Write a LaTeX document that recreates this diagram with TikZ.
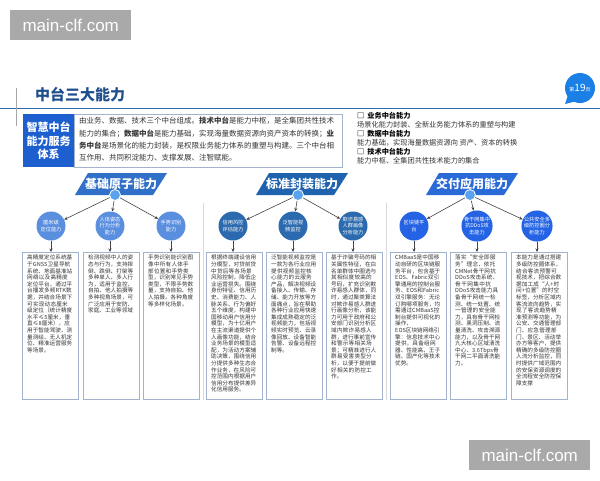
\documentclass[tikz,border=0pt]{standalone}
\usepackage{fontspec}
\setmainfont{Noto Sans CJK SC}
\newfontfamily\wmfont{Liberation Sans}
\XeTeXlinebreaklocale "zh"
\XeTeXlinebreakskip=0pt plus 0.5pt
\usetikzlibrary{arrows.meta}
\definecolor{titleblue}{HTML}{1F4E8C}
\definecolor{lineblue}{HTML}{2A6DB5}
\definecolor{badge}{HTML}{1A80E6}
\definecolor{deepblue}{HTML}{1E5FCF}
\definecolor{boxline}{HTML}{A3B3CC}
\definecolor{gA}{HTML}{5A8EDF}
\definecolor{gB}{HTML}{2B6AAE}
\definecolor{gC}{HTML}{2463E4}
\definecolor{hA}{HTML}{3170C8}
\definecolor{hB}{HTML}{1F62AD}
\definecolor{hC}{HTML}{2A6AD6}
\definecolor{hub}{HTML}{5AA2EE}
\definecolor{wm}{HTML}{A9A9A9}
\definecolor{txt}{HTML}{333333}
\definecolor{arrowgray}{HTML}{444444}
\definecolor{sepgray}{HTML}{D8D8D8}
\begin{document}
\begin{tikzpicture}[x=1pt,y=-1pt,
  wmbox/.style={fill=wm, text=white, font=\wmfont\fontsize{17}{17}\selectfont, minimum width=121pt, minimum height=30pt, inner sep=0pt, anchor=north west},
  capbox/.style={draw=boxline, line width=0.8pt, fill=white, minimum width=56pt, minimum height=147pt, inner sep=0pt, anchor=north west},
  boxtext/.style={anchor=north west, inner sep=0pt, text width=46pt, align=left, font=\fontsize{5.6}{6.6}\selectfont, text=txt},
  ability/.style={circle, fill=#1, minimum size=29pt, inner sep=0pt, text=white, align=center, font=\fontsize{5.2}{6.2}\selectfont},
  hubdot/.style={circle, fill=hub, draw=white, line width=0.8pt, minimum size=11pt, inner sep=0pt},
  link/.style={draw=arrowgray, line width=0.6pt, -{Stealth[length=3.5pt,width=3pt]}},
  header/.style={text=white, font=\bfseries\fontsize{12}{12}\selectfont, inner sep=0pt}
]
\useasboundingbox (0,0) rectangle (600,480);
\fill[white] (0,0) rectangle (600,480);

% watermarks
\node[wmbox] (wm1) at (10,10) {main-clf.com};
\node[wmbox] (wm2) at (469,440) {main-clf.com};

% title area
\draw[color=lineblue, line width=1pt] (0,108) -- (600,108);
\draw[color=gray!70, line width=0.8pt] (16,88) -- (16,126);
\node[anchor=west, text=titleblue, font=\bfseries\fontsize{15}{15}\selectfont, inner sep=0pt] (title) at (35,95) {中台三大能力};

% page badge
\fill[badge] (568,95) -- (565,104) -- (577,101) -- cycle;
\node[circle, fill=badge, minimum size=30pt, inner sep=0pt, text=white] (badgec) at (580,88)
  {{\fontsize{5}{5}\selectfont 第}{\fontsize{10}{10}\selectfont 19}{\fontsize{5}{5}\selectfont 页}};

% intro
\node[fill=deepblue, minimum width=51pt, minimum height=53pt, anchor=north west, inner sep=0pt] (sys) at (23,114) {};
\node[text=white, align=center, font=\bfseries\fontsize{11}{13.5}\selectfont, inner sep=0pt] (systext) at (sys.center) {智慧中台\\能力服务\\体系};
\node[draw=boxline, line width=0.8pt, minimum width=268pt, minimum height=53pt, anchor=north west, inner sep=0pt] (intro) at (74,114) {};
\node[anchor=north west, inner sep=0pt, align=left, text=txt, font=\fontsize{7.5}{12.4}\selectfont] (introtext) at (79,117)
{由业务、数据、技术三个中台组成。\textbf{技术中台}是能力中枢，是全集团共性技术\\
能力的集合；\textbf{数据中台}是能力基础，实现海量数据资源向资产资本的转换；\textbf{业}\\
\textbf{务中台}是场景化的能力封装，是权限业务能力体系的重塑与构建。三个中台相\\
互作用、共同积淀能力、支撑发展、注智赋能。};

\node[anchor=north west, inner sep=0pt, align=left, text=txt, font=\fontsize{7.2}{9}\selectfont] (right) at (357,112)
{\textbf{\textcolor{black}{□\hspace{3pt}业务中台能力}}\\
场景化能力封装、全新业务能力体系的重塑与构建\\
\textbf{\textcolor{black}{□\hspace{3pt}数据中台能力}}\\
能力基础，实现海量数据资源向 资产、资本的转换\\
\textbf{\textcolor{black}{□\hspace{3pt}技术中台能力}}\\
能力中枢、全集团共性技术能力的集合};

% separators
\draw[sepgray, line width=0.6pt] (203,203) -- (203,400);
\draw[sepgray, line width=0.6pt] (386,203) -- (386,400);

% headers
\fill[hA] (88,173) -- (167,173) -- (153,195) -- (75,195) -- cycle;
\node[header] (hdA) at (121,184) {基础原子能力};
\fill[hB] (269,173) -- (348,173) -- (334,195) -- (256,195) -- cycle;
\node[header] (hdB) at (302,184) {标准封装能力};
\fill[hC] (439,173) -- (518,173) -- (504,195) -- (426,195) -- cycle;
\node[header] (hdC) at (472,184) {交付应用能力};

\node[hubdot] (hubA) at (115,195) {};
\node[hubdot] (hubB) at (298,195) {};
\node[hubdot] (hubC) at (470,195) {};

% ability circles
\node[ability=gA] (c11) at (51,226) {厘米级\\定位能力};
\node[ability=gA] (c12) at (110,226) {人体姿态\\行为分析\\能力};
\node[ability=gA] (c13) at (171,226) {手势识别\\能力};
\node[ability=gB] (c21) at (233,226) {信用风控\\评估能力};
\node[ability=gB] (c22) at (293,226) {泛智能视\\频监控};
\node[ability=gB] (c23) at (353,226) {欺诈易感\\人群画像\\分析能力};
\node[ability=gC] (c31) at (414,226) {区块链平\\台};
\node[ability=gC] (c32) at (477,226) {骨干网集中\\抗DDoS攻\\击能力};
\node[ability=gC] (c33) at (537,226) {公共安全多\\级防控圈分\\析能力};

\foreach \h/\a/\b/\c in {hubA/c11/c12/c13, hubB/c21/c22/c23, hubC/c31/c32/c33}{
  \draw[link] (\h) -- (\a);
  \draw[link] (\h) -- (\b);
  \draw[link] (\h) -- (\c);
}

% boxes
\node[capbox] (b11) at (22,252) {};
\node[capbox] (b12) at (83,252) {};
\node[capbox] (b13) at (143,252) {};
\node[capbox] (b21) at (206,252) {};
\node[capbox] (b22) at (266,252) {};
\node[capbox] (b23) at (326,252) {};
\node[capbox] (b31) at (390,252) {};
\node[capbox] (b32) at (450,252) {};
\node[capbox] (b33) at (511,252) {};

\foreach \c/\b in {c11/b11,c12/b12,c13/b13,c21/b21,c22/b22,c23/b23,c31/b31,c32/b32,c33/b33}{
  \draw[link] (\c.south) -- (\c.south |- \b.north);
}

\node[boxtext] (t11) at ([xshift=5pt,yshift=-3pt]b11.north west)
{高精度定位系统基于GNSS卫星导航系统、地面基准站网络以及高精度定位平台，通过平台播发多频RTK数据，并结合场景下可实现动态厘米级定位（统计精度水平≤5厘米，垂直≤8厘米），应用于智能驾驶、测量测绘、无人机定位、精准运营服务等场景。};
\node[boxtext] (t12) at ([xshift=5pt,yshift=-3pt]b12.north west)
{检测视频中人的姿态与行为，支持摔倒、跌倒、打架等多种单人、多人行为，适用于监控、自拍、他人拍摄等多种视角场景，可广泛应用于安防、家庭、工业等领域};
\node[boxtext] (t13) at ([xshift=5pt,yshift=-3pt]b13.north west)
{手势识别能识别图像中所有人体手部位置和手势类型，识别常见手势类型，不限手势数量，支持自拍、他人拍摄、各种角度等多样化场景。};
\node[boxtext] (t21) at ([xshift=5pt,yshift=-3pt]b21.north west)
{根据终端建设信用分模型，对贷前贷中贷后等各场景风险控制，降低企业运营损失。围绕身份特征、信用历史、消费能力、人脉关系、行为偏好五个维度，构建中国移动用户信用分模型，为十亿用户在主流渠道提供个人画像功能，结合业务场景的模型适配，为活动方案辅助决策，围绕信用分提供多种生态合作业务，在风险可控范围内根据用户信用分布提供差异化信用服务。};
\node[boxtext] (t22) at ([xshift=5pt,yshift=-3pt]b22.north west)
{泛智能视频监控是一款为各行业应用提供视频监控核心能力的云服务产品，解决视频设备接入、传输、存储、能力开放等方面痛点，旨在帮助各种行业应用快速集成成熟稳定的泛视频能力，包括视频实时预览、云录像回放、设备智能告警、设备远程控制等。};
\node[boxtext] (t23) at ([xshift=5pt,yshift=-3pt]b23.north west)
{基于诈骗号码的相关属性特征，在白名单群体中圈选与其相似度较高的号码，扩充识别欺诈易感人群体，同时，通过聚类算法对欺诈易感人群进行画像分析，该能力可用于政府和公安部门识别分析区域内欺诈易感人群，进行事前宣传和警示等相关场景；可精准进行人群易受害类型分析，以便于提前做好相关的防控工作。};
\node[boxtext] (t31) at ([xshift=5pt,yshift=-3pt]b31.north west)
{CMBaaS是中国移动自研的区块链服务平台，包含基于EOS、Fabric双引擎通用的控制台服务、EOS和Fabric双引擎服务：无论订购哪项服务，均需通过CMBaaS控制台提供可视化的操作，\\EOS区块链网络引\\擎：信息技术中心提供，具备组网器、性能高、王子链、国产化等技术优势。};
\node[boxtext] (t32) at ([xshift=5pt,yshift=-3pt]b32.north west)
{落实“安全即服务”理念，依托CMNet骨干网抗DDoS攻击系统、骨干网集中抗DDoS攻击能力具备骨干网统一检测、统一处置、统一管理的安全能力，具有骨干网检测、黑洞压制、流量清洗、攻击溯源能力，以及骨干网九大核心区域清洗中心、3.6Tbps骨干网二平面清洗能力。};
\node[boxtext] (t33) at ([xshift=5pt,yshift=-3pt]b33.north west)
{本能力是通过搭建多级防控圈体系，结合客流预警可视技术，把综合数据加工成“人+时间+位置”的时空标签，分析区域内客流流向趋势，实现了客流趋势精准预测等功能，为公安、交通管理部门、应急管理部门、景区、活动举办方等客户，提供精确的多级防控圈人流分析监控，同时提供广域范围内的安保资源调度的全流程安全防控保障支撑};
\end{tikzpicture}
\end{document}
